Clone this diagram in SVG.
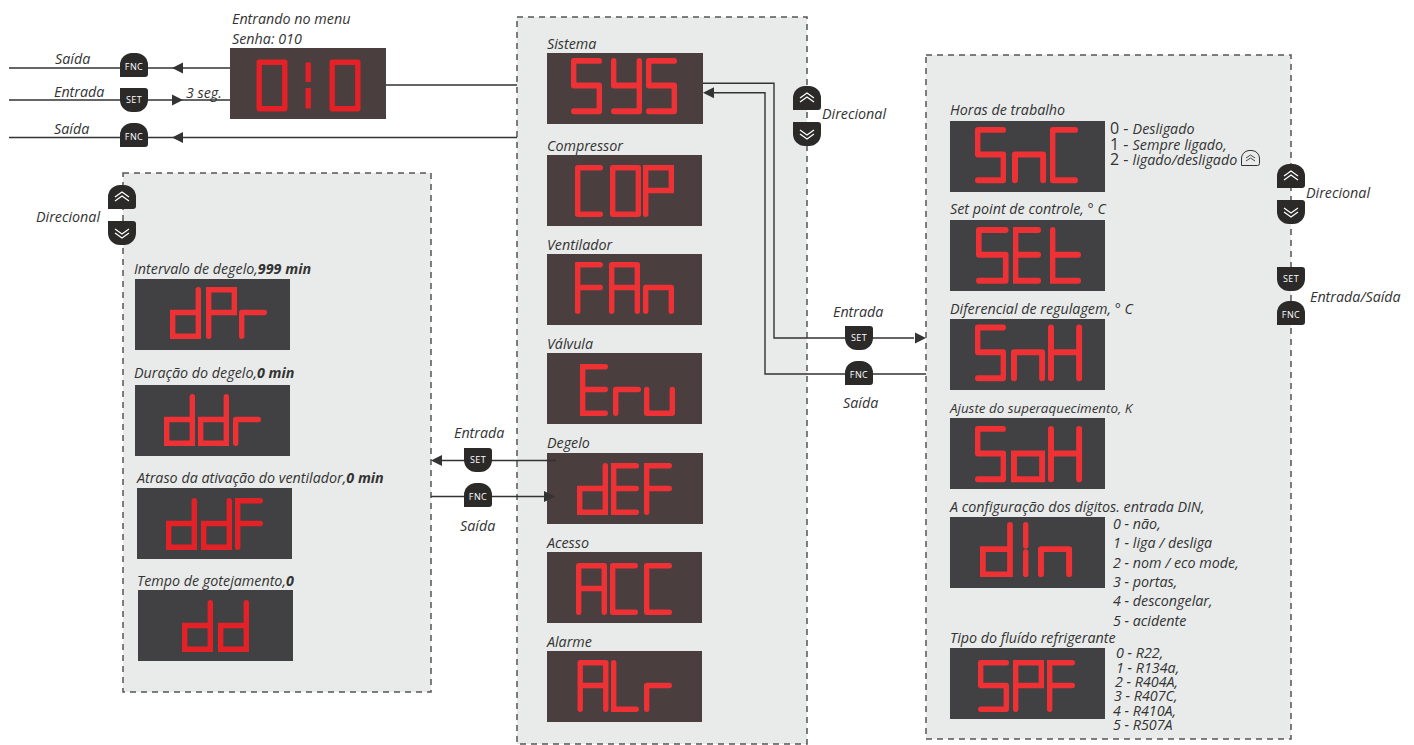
<svg xmlns="http://www.w3.org/2000/svg" xmlns:xlink="http://www.w3.org/1999/xlink" width="1414" height="745" viewBox="0 0 1414 745">
<style>
text{font-family:"Open Sans","Liberation Sans",sans-serif;font-style:italic;font-size:14.3px;fill:#333}
.b{font-weight:700}
.u{font-style:normal;font-size:16px}
.k{font-style:normal;font-size:9px;fill:#fff;text-anchor:middle;letter-spacing:.4px}
.sm{font-size:13.4px}
.panel{fill:#e9ebea}
.dash{fill:none;stroke:#555;stroke-width:1.5;stroke-dasharray:6 5}
.w{fill:#4a3f3e}.g{fill:#414042}
.btn{fill:#2b2a29}
.ch{fill:none;stroke:#fff;stroke-width:1.3}
.line{fill:none;stroke:#333;stroke-width:1.4}
.head{fill:#333}
.seg{fill:none;stroke:#ee3135;stroke-width:5.4;stroke-linecap:round;stroke-linejoin:miter}
.seg0{stroke:#e32126}
</style>
<defs>
<path id="g0" stroke-linejoin="round" d="M2.700 2.700H28.300V49.300H2.700Z"/>
<path id="g1" stroke-linecap="butt" d="M2.700 3V22.500M2.700 28.500V49"/>
<path id="gS" stroke-linejoin="round" d="M28.300 2.700H2.700V25.500H28.300V49.300H2.700"/>
<path id="gY" stroke-linejoin="round" d="M2.700 2.700V25.500H28.300M28.300 2.700V49.300H2.700"/>
<path id="gC" stroke-linejoin="round" d="M25.300 2.700H2.700V49.300H25.300"/>
<path id="gP" d="M2.700 49.300V2.700H28.300V25.500H2.700"/>
<path id="gF" d="M2.700 49.300V2.700H25.300M2.700 25.500H25.300"/>
<path id="gA" stroke-linejoin="round" d="M2.700 49.300V2.700H28.300V49.300M2.700 25.500H28.300"/>
<path id="gn" stroke-linejoin="round" d="M2.700 49.300V25.500H28.300V49.300"/>
<path id="gE" d="M25.300 2.700H2.700V49.300H25.300M2.700 25.500H25.300"/>
<path id="gr" stroke-linejoin="round" d="M2.700 49.300V25.500H25.300"/>
<path id="gu" stroke-linejoin="round" d="M2.700 25.500V49.300H28.300V25.500"/>
<path id="gd" d="M28.300 2.700V49.300H2.700V25.500H28.300"/>
<path id="gt" d="M2.700 2.700V49.300H28.300M2.700 25.500H28.300"/>
<path id="gL" d="M2.700 2.700V49.300H25.300"/>
<path id="gH" d="M2.700 2.700V49.300M28.300 2.700V49.300M2.700 25.500H28.300"/>
<path id="go" d="M2.700 25.500H28.300V49.300H2.700Z"/>
<path id="gI" d="M2.700 2.700V22.500M2.700 28.500V49.300"/>
<path id="bu" d="M0 24V12A12 12 0 0 1 12 0H16A12 12 0 0 1 28 12V21A3 3 0 0 1 25 24Z"/>
<path id="bd" d="M0 0H25A3 3 0 0 1 28 3V12A12 12 0 0 1 16 24H12A12 12 0 0 1 0 12Z"/>
<path id="chev" d="M7 12L14 7L21 12M7 16L14 11L21 16"/>
<path id="chevd" d="M7 8L14 13L21 8M7 12L14 17L21 12"/>
<path id="hl" d="M0 0L11 -5.500V5.500Z"/>
<path id="hr" d="M0 0L-11 -5.500V5.500Z"/>
</defs>

<g id="panels">
<rect id="panel-center" class="panel" x="517" y="17" width="290" height="727"/>
<rect id="panel-right" class="panel" x="926" y="55" width="365" height="684"/>
<rect id="panel-left" class="panel" x="123" y="173" width="308" height="519"/>
<rect class="dash" x="517" y="17" width="290" height="727"/>
<rect class="dash" x="926" y="55" width="365" height="684"/>
<rect class="dash" x="123" y="173" width="308" height="519"/>
</g>

<g id="menu-entry">
<text x="232" y="24">Entrando no menu</text><text x="232" y="44">Senha: 010</text>
<rect class="w" x="230" y="48" width="156" height="71"/>
<g class="seg seg0" transform="translate(0 59.500)"><use href="#g0" x="256.500"/><use href="#g1" x="305.500"/><use href="#g0" x="329.500"/></g>
</g>
<g id="node-sys"><text x="547" y="49">Sistema</text><rect class="w" x="547" y="53" width="156" height="71"/>
<g class="seg" transform="translate(0 58) scale(1 1.080)"><use href="#gS" x="571"/><use href="#gY" x="611"/><use href="#gS" x="646"/></g></g>
<g id="node-cop"><text x="547" y="151">Compressor</text><rect class="w" x="547" y="155" width="155" height="71"/>
<g class="seg" transform="translate(0 165)"><use href="#gC" x="575"/><use href="#g0" x="610"/><use href="#gP" x="643"/></g></g>
<g id="node-fan"><text x="547" y="250">Ventilador</text><rect class="w" x="547" y="254" width="155" height="71"/>
<g class="seg" transform="translate(0 262)"><use href="#gF" x="575"/><use href="#gA" x="609"/><use href="#gn" x="643"/></g></g>
<g id="node-eru"><text x="547" y="349">Válvula</text><rect class="w" x="547" y="353" width="155" height="71"/>
<g class="seg" transform="translate(0 364)"><use href="#gE" x="580"/><use href="#gr" x="613"/><use href="#gu" x="644"/></g></g>
<g id="node-def"><text x="547" y="448">Degelo</text><rect class="w" x="547" y="453" width="156" height="71"/>
<g class="seg" transform="translate(0 463)"><use href="#gd" x="577"/><use href="#gE" x="611"/><use href="#gF" x="644"/></g></g>
<g id="node-acc"><text x="547" y="548">Acesso</text><rect class="w" x="547" y="552" width="155" height="71"/>
<g class="seg" transform="translate(0 563)"><use href="#gA" x="576"/><use href="#gC" x="610"/><use href="#gC" x="644"/></g></g>
<g id="node-alr"><text x="547" y="647">Alarme</text><rect class="w" x="547" y="651" width="155" height="71"/>
<g class="seg" transform="translate(0 660)"><use href="#gA" x="577.500"/><use href="#gL" x="611"/><use href="#gr" x="644"/></g></g>

<g id="node-snc"><text x="950" y="115">Horas de trabalho</text><rect class="g" x="950" y="121" width="155" height="71"/>
<g class="seg" transform="translate(0 127) scale(1 1.080)"><use href="#gS" x="975"/><use href="#gn" transform="translate(1012) scale(1.100 1)"/><use href="#gC" x="1050"/></g>
<text x="1110" y="134"><tspan class="u">0 - </tspan>Desligado</text>
<text x="1110" y="150"><tspan class="u">1 - </tspan>Sempre ligado,</text>
<text x="1110" y="165"><tspan class="u">2 - </tspan>ligado/desligado</text>
<g transform="translate(1241 150)"><path d="M.500 15.500V9A8 8 0 0 1 8 .500H11A8 8 0 0 1 18.500 9V13.500A2 2 0 0 1 16.500 15.500Z" fill="none" stroke="#333"/><path d="M5 8L9.500 5L14 8M5 11L9.500 8L14 11" fill="none" stroke="#333" stroke-width=".9"/></g></g>
<g id="node-set"><text x="950" y="214">Set point de controle, ° C</text><rect class="g" x="950" y="220" width="155" height="71"/>
<g class="seg" transform="translate(0 227) scale(1 1.090)"><use href="#gS" transform="translate(976) scale(1.050 1)"/><use href="#gE" x="1013"/><use href="#gt" x="1050"/></g></g>
<g id="node-snh"><text x="950" y="314">Diferencial de regulagem, ° C</text><rect class="g" x="950" y="319" width="155" height="71"/>
<g class="seg" transform="translate(0 324.500) scale(1 1.090)"><use href="#gS" x="975"/><use href="#gn" transform="translate(1011) scale(1.100 1)"/><use href="#gH" transform="translate(1048) scale(1.100 1)"/></g></g>
<g id="node-soh"><text class="sm" x="950" y="413">Ajuste do superaquecimento, K</text><rect class="g" x="950" y="418" width="155" height="71"/>
<g class="seg" transform="translate(0 426) scale(1 1.080)"><use href="#gS" x="975"/><use href="#go" transform="translate(1011) scale(1.100 1)"/><use href="#gH" transform="translate(1048) scale(1.100 1)"/></g></g>
<g id="node-din"><text x="950" y="512">A configuração dos dígitos. entrada DIN,</text><rect class="g" x="950" y="517" width="155" height="71"/>
<g class="seg" transform="translate(0 522) scale(1 1.060)"><use href="#gd" transform="translate(980) scale(1.060 1)"/><use href="#gI" x="1023"/><use href="#gn" transform="translate(1038) scale(1.100 1)"/></g>
<text x="1113" y="529">0 - não,</text><text x="1113" y="548">1 - liga / desliga</text><text x="1113" y="568">2 - nom / eco mode,</text><text x="1113" y="587">3 - portas,</text><text x="1113" y="606">4 - descongelar,</text><text x="1113" y="626">5 - acidente</text></g>
<g id="node-spf"><text x="950" y="643">Tipo do fluído refrigerante</text><rect class="g" x="950" y="648" width="155" height="71"/>
<g class="seg" transform="translate(0 660)"><use href="#gS" x="978"/><use href="#gP" x="1013"/><use href="#gF" x="1047"/></g>
<text x="1116" y="658">0 - R22,</text><text x="1116" y="673">1 - R134a,</text><text x="1115" y="687">2 - R404A,</text><text x="1114" y="701">3 - R407C,</text><text x="1113" y="716">4 - R410A,</text><text x="1113" y="730">5 - R507A</text></g>

<g id="node-dpr"><text x="134" y="274">Intervalo de degelo,<tspan class="b">999 min</tspan></text><rect class="g" x="135" y="279" width="155" height="71"/>
<g class="seg" transform="translate(0 287)"><use href="#gd" x="170"/><use href="#gP" x="206"/><use href="#gr" x="239"/></g></g>
<g id="node-ddr"><text x="134" y="378">Duração do degelo,<tspan class="b">0 min</tspan></text><rect class="g" x="135" y="385" width="155" height="71"/>
<g class="seg" transform="translate(0 394)"><use href="#gd" x="164"/><use href="#gd" x="198"/><use href="#gr" x="233"/></g></g>
<g id="node-ddf"><text x="137" y="483">Atraso da ativação do ventilador,<tspan class="b">0 min</tspan></text><rect class="g" x="137" y="488" width="155" height="71"/>
<g class="seg seg0" transform="translate(0 498)"><use href="#gd" x="166"/><use href="#gd" x="201"/><use href="#gF" x="235"/></g></g>
<g id="node-dd"><text x="137" y="586">Tempo de gotejamento,<tspan class="b">0</tspan></text><rect class="g" x="138" y="590" width="155" height="71"/>
<g class="seg seg0" transform="translate(0 600)"><use href="#gd" x="182"/><use href="#gd" x="218"/></g></g>

<g id="connectors">
<path class="line" d="M9 68H230M9 100H230M9 137.500H517M386 85H517"/>
<path class="line" d="M703 83.300H774V338H914"/>
<path class="line" d="M714 92.700H765V374H926"/>
<path class="line" d="M556 460.500H442M431 496.500H545"/>
<use class="head" href="#hl" x="172" y="68"/>
<use class="head" href="#hr" x="183" y="100"/>
<use class="head" href="#hl" x="172" y="137.500"/>
<use class="head" href="#hl" x="703" y="92.700"/>
<use class="head" href="#hr" x="926" y="338"/>
<use class="head" href="#hl" x="431" y="460.500"/>
<use class="head" href="#hr" x="555" y="496.500"/>
</g>

<g id="btn-fnc-1"><use class="btn" href="#bu" x="120" y="53"/><text class="k" x="134" y="70">FNC</text></g>
<g id="btn-set-1"><use class="btn" href="#bd" x="120" y="88"/><text class="k" x="134" y="103">SET</text></g>
<g id="btn-fnc-2"><use class="btn" href="#bu" x="120" y="123"/><text class="k" x="134" y="140">FNC</text></g>
<g id="btn-set-2"><use class="btn" href="#bd" x="845" y="326"/><text class="k" x="859" y="341">SET</text></g>
<g id="btn-fnc-3"><use class="btn" href="#bu" x="845" y="361"/><text class="k" x="859" y="378">FNC</text></g>
<g id="btn-set-3"><use class="btn" href="#bd" x="464" y="448"/><text class="k" x="478" y="463">SET</text></g>
<g id="btn-fnc-4"><use class="btn" href="#bu" x="464" y="483"/><text class="k" x="478" y="500">FNC</text></g>
<g id="btn-set-4"><use class="btn" href="#bd" x="1277" y="267"/><text class="k" x="1291" y="282">SET</text></g>
<g id="btn-fnc-5"><use class="btn" href="#bu" x="1277" y="301"/><text class="k" x="1291" y="318">FNC</text></g>
<g id="dir-center"><use class="btn" href="#bu" x="793" y="86"/><use class="ch" href="#chev" x="793" y="86"/><use class="btn" href="#bd" x="793" y="122"/><use class="ch" href="#chevd" x="793" y="122"/></g>
<g id="dir-right"><use class="btn" href="#bu" x="1277" y="164"/><use class="ch" href="#chev" x="1277" y="164"/><use class="btn" href="#bd" x="1277" y="200"/><use class="ch" href="#chevd" x="1277" y="200"/></g>
<g id="dir-left"><use class="btn" href="#bu" x="108" y="185"/><use class="ch" href="#chev" x="108" y="185"/><use class="btn" href="#bd" x="108" y="221"/><use class="ch" href="#chevd" x="108" y="221"/></g>

<g id="labels">
<text x="55" y="64">Saída</text><text x="54" y="97">Entrada</text><text x="186" y="98">3 seg.</text><text x="54" y="134">Saída</text>
<text x="822" y="119">Direcional</text><text x="1306" y="198">Direcional</text><text x="1310" y="302">Entrada/Saída</text><text x="36" y="222">Direcional</text>
<text x="454" y="438">Entrada</text><text x="460" y="531">Saída</text><text x="833" y="317">Entrada</text><text x="843" y="408">Saída</text>
</g>
</svg>
